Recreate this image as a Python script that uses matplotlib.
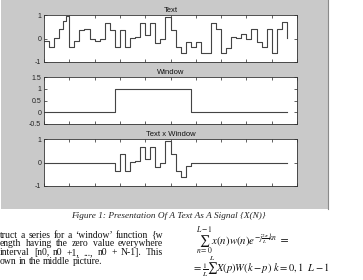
import numpy as np
import matplotlib
matplotlib.use("Agg")
import matplotlib.pyplot as plt
from matplotlib.patches import Rectangle
from matplotlib.lines import Line2D

plt.rcParams['mathtext.fontset'] = 'stix'

# ---- data ----
text_edges = [0, 2, 4, 6, 7.5, 8.5, 10, 12, 14, 16, 18, 20, 22, 24, 26, 28, 30, 32,
              34, 36, 38, 40, 42, 44, 46, 48, 50, 52, 54, 56, 58, 60, 62, 66, 68,
              70, 72, 74, 76, 78, 80, 82, 84, 86, 88, 90, 92, 94, 96]
text_values = [-0.1, -0.38, 0.03, 0.4, 0.75, 0.97, -0.38, -0.12, 0.36, 0.42, -0.04,
               -0.12, -0.04, 0.67, 0.36, -0.38, 0.36, -0.38, 0.03, 0.05, 0.67, 0.17,
               0.67, -0.2, -0.04, 0.9, 0.36, -0.38, -0.6, -0.13, -0.38, -0.13, -0.6,
               0.67, 0.42, -0.6, -0.42, 0.08, 0.03, 0.18, -0.04, 0.42, -0.13, -0.38,
               0.42, -0.6, 0.42, 0.7, 0.03]
window_edges = [0, 28, 58, 96]
window_values = [0, 1, 0, 0]

titles = ["Text", "Window", "Text x Window"]
x_ticks = [0, 10, 20, 30, 40, 50, 60, 70, 80, 90, 100]
yticks_text = [-1, 0, 1]
yticks_window = [-0.5, 0, 0.5, 1, 1.5]
yticklabels_window = ["-0.5", "0", "0.5", "1", "1.5"]

caption = "Figure 1: Presentation Of A Text As A Signal {X(N)}"
body_lines = ["truct a series for a \u2018window\u2019 function {w",
              "ength having the zero value everywhere",
              "interval [n0, n0 +1, ..., n0 + N-1]. This",
              "own in the middle picture."]
eq1 = r"$\sum_{n=0}^{L-1}x(n)w(n)e^{-j\frac{2\pi}{L}kn}$ ="
eq2 = r"$=\frac{1}{L}\sum^{L}X(p)W(k-p)\ k=0,1\ \ L-1$"

# ---- derived product ----
te = np.array(text_edges, dtype=float)
tv = np.array(text_values, dtype=float)
widx = np.searchsorted(window_edges, te, side='right') - 1
wv = np.array(window_values, dtype=float)[widx]
prod_values = tv * wv

W, H = 363, 280
fig = plt.figure(figsize=(W / 100, H / 100), dpi=100)
fig.patch.set_facecolor('white')

def fx(px):
    return px / W

def fy(py):
    return 1 - py / H

# gray figure background region
fig.patches.append(Rectangle((fx(1), fy(209)), fx(327), 209 / H,
                             transform=fig.transFigure, facecolor='#c9c9c9',
                             edgecolor='none', zorder=-5))
fig.lines.append(Line2D([fx(328), fx(328)], [fy(209), fy(0)], transform=fig.transFigure,
                        color='#8a8a8a', lw=0.8, zorder=-4))

tick_font = dict(family='Liberation Sans', size=5)
line_color = '#444444'

def make_axes(top_px, bottom_px):
    ax = fig.add_axes([fx(44), fy(bottom_px), fx(297) - fx(44), (bottom_px - top_px) / H])
    ax.set_zorder(2)
    ax.set_facecolor('white')
    ax.set_xlim(0, 100)
    ax.set_xticks(x_ticks)
    ax.set_xticklabels([])
    ax.tick_params(direction='in', length=2, width=0.5, top=True, right=True,
                   labelsize=5, pad=2, colors='#222222')
    for s in ax.spines.values():
        s.set_linewidth(0.6)
        s.set_color('#333333')
    return ax

ax1 = make_axes(15, 62)
ax1.step(text_edges, text_values, where='post', color=line_color, lw=0.8)
ax1.set_ylim(-1, 1)
ax1.set_yticks(yticks_text)
ax1.set_yticklabels([str(v) for v in yticks_text], fontdict=tick_font)

ax2 = make_axes(77, 124)
ax2.step(window_edges, window_values, where='post', color=line_color, lw=0.8)
ax2.set_ylim(-0.5, 1.5)
ax2.set_yticks(yticks_window)
ax2.set_yticklabels(yticklabels_window, fontdict=tick_font)

ax3 = make_axes(139, 186)
ax3.step(text_edges, prod_values, where='post', color=line_color, lw=0.8)
ax3.set_ylim(-1, 1)
ax3.set_yticks(yticks_text)
ax3.set_yticklabels([str(v) for v in yticks_text], fontdict=tick_font)

for ax, t in zip([ax1, ax2, ax3], titles):
    ax.set_title(t, fontdict=dict(family='Liberation Sans', size=5.5), pad=2.3, color='#111111')

# caption
fig.text(fx(168), fy(216), caption, ha='center', va='center', family='Liberation Serif',
         style='italic', fontsize=6.7, color='#222222')

# body text, justified
fig.canvas.draw()
renderer = fig.canvas.get_renderer()
body_fs = 6.9
body_y = [235, 243.7, 252.4, 261.1]
for i, (line, ypx) in enumerate(zip(body_lines, body_y)):
    words = line.split(' ')
    ts = [fig.text(0, fy(ypx), w, fontsize=body_fs, family='Liberation Serif',
                   va='center', ha='left', color='#111111') for w in words]
    widths = [t.get_window_extent(renderer).width for t in ts]
    x0, x1 = 0.0, 163.0
    if i < len(body_lines) - 1 and len(words) > 1:
        gap = (x1 - x0 - sum(widths)) / (len(words) - 1)
    else:
        space = fig.text(0, 0, 'a a', fontsize=body_fs, family='Liberation Serif')
        sw = space.get_window_extent(renderer).width
        aw = fig.text(0, 0, 'aa', fontsize=body_fs, family='Liberation Serif')
        gap = sw - aw.get_window_extent(renderer).width
        space.remove(); aw.remove()
    x = x0
    for t, w in zip(ts, widths):
        t.set_position((fx(x), fy(ypx)))
        x += w + gap

# equations
fig.text(fx(196), fy(244.5), eq1, ha='left', va='baseline', fontsize=7.8, color='#111111')
fig.text(fx(192), fy(272.5), eq2, ha='left', va='baseline', fontsize=7.6, color='#111111')

fig.savefig('out.png', dpi=100, facecolor='white')
